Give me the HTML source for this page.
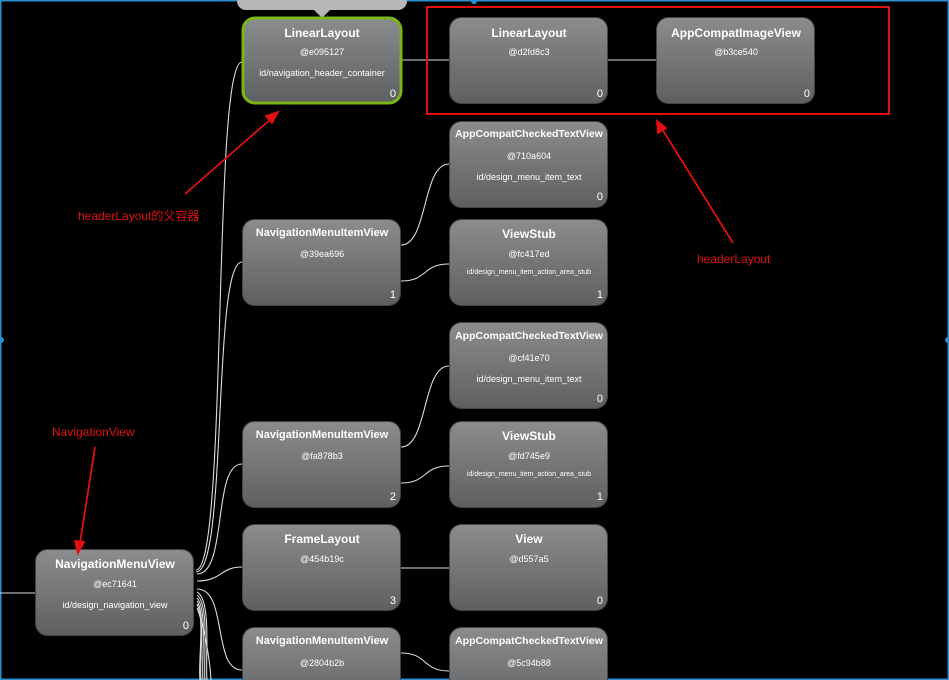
<!DOCTYPE html><html><head><style>body{margin:0;background:#000}svg{display:block}text{font-family:"Liberation Sans","DejaVu Sans",sans-serif;fill:#fff}</style></head><body>
<svg width="949" height="680" viewBox="0 0 949 680" xmlns="http://www.w3.org/2000/svg">
<defs><linearGradient id="g" x1="0" y1="0" x2="0" y2="1"><stop offset="0" stop-color="#8b8c8e"/><stop offset="1" stop-color="#5d5f61"/></linearGradient></defs>
<rect x="0" y="0" width="949" height="680" fill="#000"/>
<rect x="0.5" y="0.5" width="948" height="679" fill="none" stroke="#2a8fd0" stroke-width="2"/>
<circle cx="1" cy="340" r="3" fill="#2a8fd0"/><circle cx="948" cy="340" r="3" fill="#2a8fd0"/><circle cx="474" cy="1" r="3" fill="#2a8fd0"/>
<g fill="none" stroke="#ddd" stroke-width="1.1">
<path d="M0,593 H35"/>
<path d="M196,570 C228,570 212,62 242,62"/>
<path d="M196,572 C228,572 212,262 242,262"/>
<path d="M197,574 C228,574 212,464 242,464"/>
<path d="M197,581 C222,581 220,567 242,567"/>
<path d="M197,589 C228,589 212,670 242,670"/>
<path d="M197,592 C212,600 205,660 207,680"/><path d="M197,595 C210,605 203,660 205,680"/><path d="M197,598 C208,610 201,660 203,680"/><path d="M197,601 C206,615 199,660 201,680"/><path d="M197,604 C205,620 198,660 200,680"/><path d="M197,608 C204,625 210,660 211,680"/>
<path d="M402,60 H449"/><path d="M608,60 H656"/>
<path d="M401,245 C428,245 422,164 449,164"/>
<path d="M401,281 C428,281 422,264 449,264"/>
<path d="M401,447 C428,447 422,366 449,366"/>
<path d="M401,483 C428,483 422,466 449,466"/>
<path d="M401,568 H449"/>
<path d="M401,653 C428,653 422,671 449,671"/>
</g>
<rect x="237" y="-12" width="170" height="22" rx="9" fill="#b4b6b8"/>
<path d="M314,10 L330,10 L322,18 Z" fill="#b4b6b8"/>
<g font-size="9" text-anchor="middle">
<rect x="243" y="18" width="158" height="85" rx="12" fill="url(#g)" stroke="#7cb518" stroke-width="3"/>
<text x="322" y="37" font-size="12" font-weight="bold">LinearLayout</text><text x="322" y="55">@e095127</text><text x="322" y="76">id/navigation_header_container</text><text x="396" y="97" font-size="11" text-anchor="end">0</text>

<rect x="449.5" y="17.5" width="158" height="86" rx="12" fill="url(#g)" stroke="#444"/>
<text x="529" y="37" font-size="12" font-weight="bold">LinearLayout</text><text x="529" y="55">@d2fd8c3</text><text x="603" y="97" font-size="11" text-anchor="end">0</text>
<rect x="656.5" y="17.5" width="158" height="86" rx="12" fill="url(#g)" stroke="#444"/>
<text x="736" y="37" font-size="12" font-weight="bold">AppCompatImageView</text><text x="736" y="55">@b3ce540</text><text x="810" y="97" font-size="11" text-anchor="end">0</text>

<rect x="449.5" y="121.5" width="158" height="86" rx="12" fill="url(#g)" stroke="#444"/>
<text x="529" y="137" font-size="10.5" font-weight="bold">AppCompatCheckedTextView</text><text x="529" y="159">@710a604</text><text x="529" y="180">id/design_menu_item_text</text><text x="603" y="200" font-size="11" text-anchor="end">0</text>
<rect x="449.5" y="219.5" width="158" height="86" rx="12" fill="url(#g)" stroke="#444"/>
<text x="529" y="238" font-size="12" font-weight="bold">ViewStub</text><text x="529" y="257">@fc417ed</text><text x="529" y="274" font-size="7">id/design_menu_item_action_area_stub</text><text x="603" y="298" font-size="11" text-anchor="end">1</text>
<rect x="449.5" y="322.5" width="158" height="86" rx="12" fill="url(#g)" stroke="#444"/>
<text x="529" y="339" font-size="10.5" font-weight="bold">AppCompatCheckedTextView</text><text x="529" y="361">@cf41e70</text><text x="529" y="382">id/design_menu_item_text</text><text x="603" y="402" font-size="11" text-anchor="end">0</text>
<rect x="449.5" y="421.5" width="158" height="86" rx="12" fill="url(#g)" stroke="#444"/>
<text x="529" y="440" font-size="12" font-weight="bold">ViewStub</text><text x="529" y="459">@fd745e9</text><text x="529" y="476" font-size="7">id/design_menu_item_action_area_stub</text><text x="603" y="500" font-size="11" text-anchor="end">1</text>
<rect x="449.5" y="524.5" width="158" height="86" rx="12" fill="url(#g)" stroke="#444"/>
<text x="529" y="543" font-size="12" font-weight="bold">View</text><text x="529" y="562">@d557a5</text><text x="603" y="604" font-size="11" text-anchor="end">0</text>
<rect x="449.5" y="627.5" width="158" height="86" rx="12" fill="url(#g)" stroke="#444"/>
<text x="529" y="644" font-size="10.5" font-weight="bold">AppCompatCheckedTextView</text><text x="529" y="666">@5c94b88</text>

<rect x="242.5" y="219.5" width="158" height="86" rx="12" fill="url(#g)" stroke="#444"/>
<text x="322" y="236" font-size="11" font-weight="bold">NavigationMenuItemView</text><text x="322" y="257">@39ea696</text><text x="396" y="298" font-size="11" text-anchor="end">1</text>
<rect x="242.5" y="421.5" width="158" height="86" rx="12" fill="url(#g)" stroke="#444"/>
<text x="322" y="438" font-size="11" font-weight="bold">NavigationMenuItemView</text><text x="322" y="459">@fa878b3</text><text x="396" y="500" font-size="11" text-anchor="end">2</text>
<rect x="242.5" y="524.5" width="158" height="86" rx="12" fill="url(#g)" stroke="#444"/>
<text x="322" y="543" font-size="12" font-weight="bold">FrameLayout</text><text x="322" y="562">@454b19c</text><text x="396" y="604" font-size="11" text-anchor="end">3</text>
<rect x="242.5" y="627.5" width="158" height="86" rx="12" fill="url(#g)" stroke="#444"/>
<text x="322" y="644" font-size="11" font-weight="bold">NavigationMenuItemView</text><text x="322" y="666">@2804b2b</text>

<rect x="35.5" y="549.5" width="158" height="86" rx="12" fill="url(#g)" stroke="#444"/>
<text x="115" y="568" font-size="12" font-weight="bold">NavigationMenuView</text><text x="115" y="587">@ec71641</text><text x="115" y="608">id/design_navigation_view</text><text x="189" y="629" font-size="11" text-anchor="end">0</text>
</g>
<rect x="427" y="7" width="462" height="107" fill="none" stroke="#e01010" stroke-width="2"/>
<g stroke="#e01010" stroke-width="1.8" fill="#e01010">
<line x1="185" y1="194" x2="272" y2="118"/><path d="M278,112 L266,116 L272,123 Z"/>
<line x1="95" y1="447" x2="80" y2="543"/><path d="M78,553 L75,541 L84,542 Z"/>
<line x1="733" y1="243" x2="662" y2="129"/><path d="M657,121 L658,133 L666,128 Z"/>
</g>
<g font-size="12" fill="#e01010" style="fill:#e01010">
<text x="78" y="220" style="fill:#e01010;font-family:'Liberation Sans','Noto Sans CJK SC',sans-serif">headerLayout的父容器</text>
<text x="52" y="436" style="fill:#e01010">NavigationView</text>
<text x="697" y="263" style="fill:#e01010">headerLayout</text>
</g>
</svg></body></html>
